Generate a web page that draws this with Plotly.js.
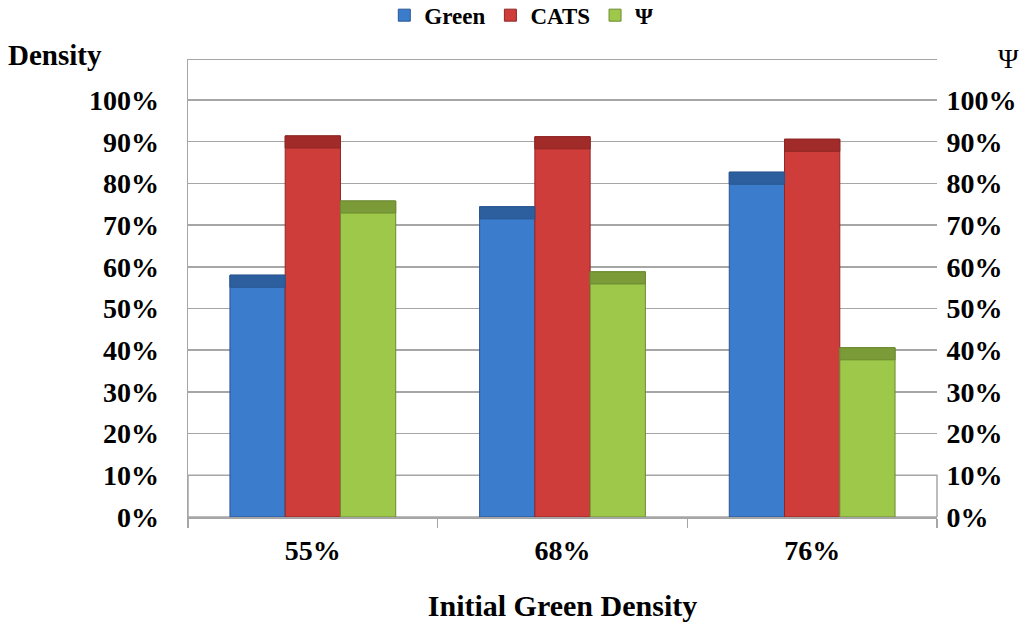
<!DOCTYPE html>
<html>
<head>
<meta charset="utf-8">
<script src="https://cdn.plot.ly/plotly-3.0.1.min.js"></script>
<style>html,body{margin:0;padding:0;background:#fff;}#chart{width:1024px;height:627px;}</style>
</head>
<body>
<div id="chart"></div>
<script>
// Data (percent)
const categories = ["55%", "68%", "76%"];
const greenValues = [58, 74.4, 82.7];
const catsValues = [91.4, 91.2, 90.6];
const psiValues = [75.8, 58.8, 40.6];
const seriesNames = ["Green", "CATS", "\u03A8"];
const yTickVals = [0,10,20,30,40,50,60,70,80,90,100];
const yTickText = ["0%","10%","20%","30%","40%","50%","60%","70%","80%","90%","100%"];

const faceColors = ["#3b7dcc", "#cf3d3b", "#9dc84a"];
const capColors = ["#2d5f9e", "#a02b29", "#7a9b37"];
const edgeColors = ["#2a5590", "#8e2624", "#6d8a32"];
const capH = 2.9;

const allSeries = [greenValues, catsValues, psiValues];
const traces = [];
allSeries.forEach((vals, i) => {
  traces.push({
    type: 'bar', x: categories, y: vals, name: seriesNames[i],
    offsetgroup: String(i),
    marker: {color: faceColors[i], line: {color: edgeColors[i], width: 1}},
    hoverinfo: 'x+y'
  });
});
allSeries.forEach((vals, i) => {
  traces.push({
    type: 'bar', x: categories, y: vals.map(() => capH), base: vals.map(v => v - capH),
    offsetgroup: String(i), showlegend: false, hoverinfo: 'skip',
    marker: {color: capColors[i], line: {color: edgeColors[i], width: 1}}
  });
});
// invisible trace on right axis
traces.push({type: 'scatter', x: categories, y: psiValues, yaxis: 'y2', mode: 'markers',
  marker: {opacity: 0}, showlegend: false, hoverinfo: 'skip'});

const serif = '"Liberation Serif", "Times New Roman", serif';
const tickFont = {family: serif, size: 28, color: '#000', weight: 'bold'};

const layout = {
  width: 1024, height: 627,
  margin: {l: 188, r: 87, t: 60, b: 110, autoexpand: false},
  paper_bgcolor: '#fff', plot_bgcolor: '#fff',
  barmode: 'group', bargap: 0.336, bargroupgap: 0,
  showlegend: true,
  legend: {orientation: 'h', x: 0.445, xanchor: 'center', y: 1.098, yanchor: 'middle',
    font: {family: serif, size: 23, color: '#000', weight: 'bold'},
    traceorder: 'normal'},
  xaxis: {
    type: 'category', showgrid: false, zeroline: false,
    showline: true, linecolor: '#a6a6a6', linewidth: 1.5, mirror: true,
    ticks: 'outside', tickson: 'boundaries', ticklen: 9, tickcolor: '#a6a6a6', tickwidth: 1.5,
    ticklabelstandoff: 8,
    tickfont: tickFont,
    title: {text: 'Initial Green Density', standoff: 30,
      font: {family: serif, size: 30, color: '#000', weight: 'bold'}}
  },
  yaxis: {
    range: [0, 109.6], tickvals: yTickVals, ticktext: yTickText,
    showgrid: true, gridcolor: '#a6a6a6', gridwidth: 1.5, zeroline: false,
    showline: true, linecolor: '#a6a6a6', linewidth: 1.5,
    ticks: 'outside', ticklen: 22, tickcolor: 'rgba(0,0,0,0)',
    tickfont: tickFont, fixedrange: true
  },
  yaxis2: {
    range: [0, 109.6], tickvals: yTickVals, ticktext: yTickText,
    overlaying: 'y', side: 'right', showgrid: false, zeroline: false, showline: false,
    ticks: 'outside', ticklen: 3, tickcolor: 'rgba(0,0,0,0)',
    tickfont: tickFont, fixedrange: true
  },
  shapes: [
    {type: 'rect', xref: 'paper', yref: 'y', x0: 0, x1: 1, y0: 0, y1: 10,
      fillcolor: '#fff', line: {color: '#a6a6a6', width: 1.5}, layer: 'below'}
  ],
  annotations: [
    {text: 'Density', xref: 'paper', yref: 'paper', x: -0.243, y: 1.011, xanchor: 'left', yanchor: 'middle',
      showarrow: false, font: {family: serif, size: 29, color: '#000', weight: 'bold'}},
    {text: '\u03A8', xref: 'paper', yref: 'paper', x: 1.0948, y: 1.004, xanchor: 'center', yanchor: 'middle',
      showarrow: false, font: {family: serif, size: 28, color: '#000'}}
  ]
};

Plotly.newPlot('chart', traces, layout, {displayModeBar: false, staticPlot: true});
</script>
</body>
</html>
